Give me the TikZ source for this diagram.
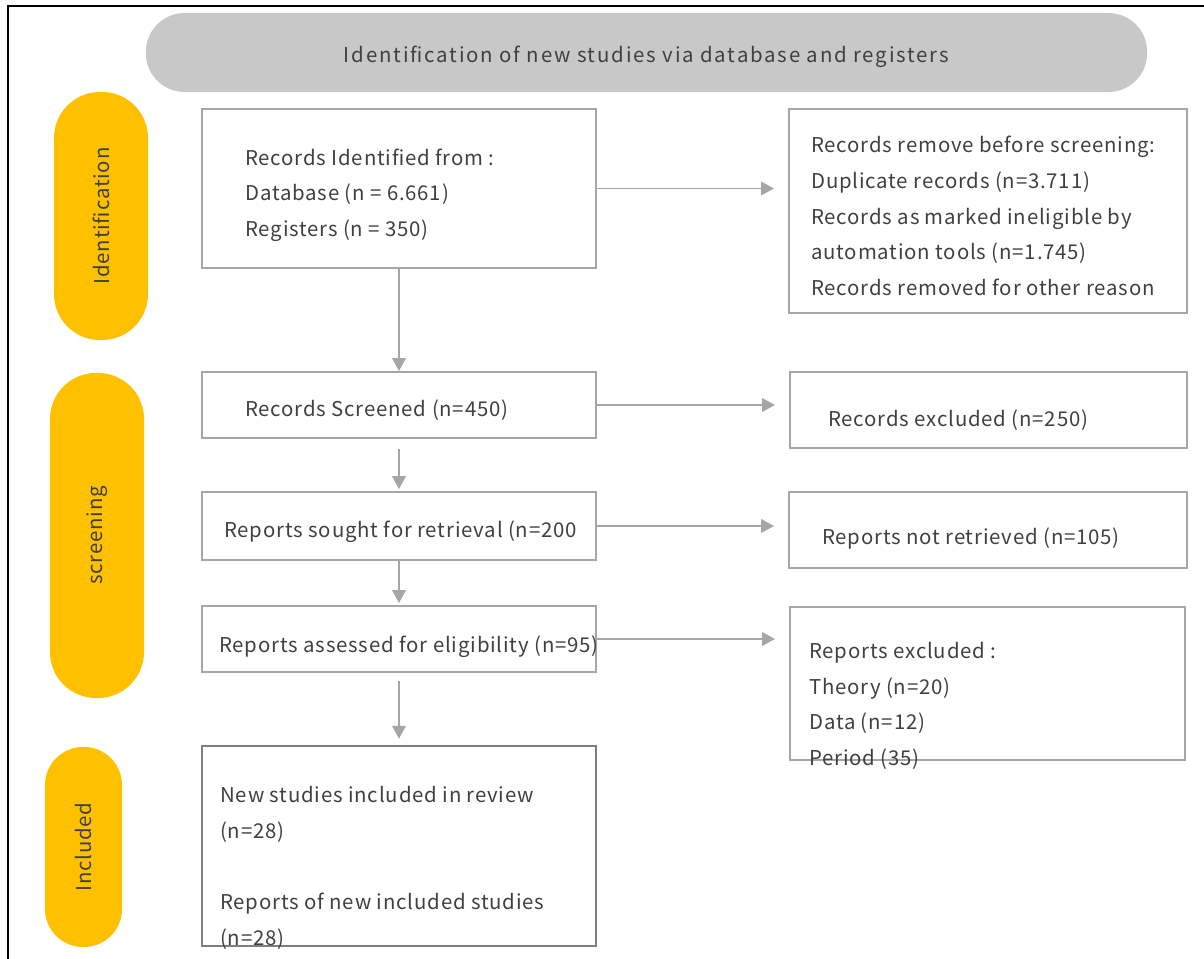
\documentclass[tikz,border=0pt]{standalone}
\usepackage{fontspec}
\setmainfont{Noto Sans CJK JP}[LetterSpace=4]
\usetikzlibrary{arrows.meta}
\definecolor{boxgray}{HTML}{A6A6A6}
\definecolor{darkbox}{HTML}{7F7F7F}
\definecolor{titlegray}{HTML}{C8C8C8}
\definecolor{pillyellow}{HTML}{FFC000}
\definecolor{textgray}{HTML}{404040}
\tikzset{
  flowbox/.style={draw=boxgray, line width=1.4pt, inner sep=0pt},
  stagepill/.style={fill=pillyellow, rounded corners=1.15cm, inner sep=0pt, rotate=90, text=textgray},
  flowtext/.style={anchor=mid west, inner sep=0pt, align=left, text=textgray},
  flowarrow/.style={draw=boxgray, line width=1.1pt, -{Triangle[length=0.32cm, width=0.34cm]}}
}
\begin{document}
\begin{tikzpicture}[x=0.025cm, y=-0.025cm, font=\fontsize{14.5pt}{25.5pt}\selectfont]
\useasboundingbox (0,0) rectangle (1204,959);
\draw[line width=2pt] (8,959) -- (8,6) -- (1204,6);

% title and stages
\node[fill=titlegray, rounded corners=0.97cm, minimum width=25.025cm, minimum height=1.975cm] (Title) at (646.5,52.5) {};
\node[inner sep=0pt, text=textgray, font=\fontsize{14.5pt}{25.5pt}\selectfont\addfontfeatures{LetterSpace=9}] (Title text) at (646.5,57) {Identification of new studies via database and registers};
\node[stagepill, minimum width=6.2cm, minimum height=2.35cm] (Identification) at (101,216) {Identification};
\node[stagepill, minimum width=8.125cm, minimum height=2.35cm] (Screening) at (97,535.5) {screening};
\node[stagepill, rounded corners=0.95cm, minimum width=5cm, minimum height=1.925cm] (Included) at (83.5,847) {Included};

% boxes
\node[flowbox, minimum width=9.85cm, minimum height=3.975cm] (Records Identified) at (399,188.5) {};
\node[flowbox, minimum width=9.95cm, minimum height=5.1cm] (Records Removed) at (988,211) {};
\node[flowbox, minimum width=9.85cm, minimum height=1.65cm] (Records Screened) at (399,405) {};
\node[flowbox, minimum width=9.925cm, minimum height=1.9cm] (Records Excluded) at (988.5,410) {};
\node[flowbox, minimum width=9.85cm, minimum height=1.7cm] (Reports Sought) at (399,526) {};
\node[flowbox, minimum width=9.95cm, minimum height=1.9cm] (Reports Not Retrieved) at (988,530) {};
\node[flowbox, minimum width=9.85cm, minimum height=1.65cm] (Reports Assessed) at (399,639) {};
\node[flowbox, minimum width=9.875cm, minimum height=3.825cm] (Reports Excluded) at (987.5,683.5) {};
\node[flowbox, draw=darkbox, line width=1.8pt, minimum width=9.85cm, minimum height=5cm] (New Studies) at (399,846) {};

% texts (anchored on their last line)
\node[flowtext] (Records Identified text) at (245,233) {Records Identified from :\\Database (n = 6.661)\\Registers (n = 350)};
\node[flowtext] (Records Removed text) at (811,292) {Records remove before screening:\\Duplicate records (n=3.711)\\Records as marked ineligible by\\automation tools (n=1.745)\\Records removed for other reason};
\node[flowtext] (Records Screened text) at (245,413) {Records Screened (n=450)};
\node[flowtext] (Records Excluded text) at (828,423) {Records excluded (n=250)};
\node[flowtext] (Reports Sought text) at (224,534) {Reports sought for retrieval (n=200};
\node[flowtext] (Reports Not Retrieved text) at (822,541) {Reports not retrieved (n=105)};
\node[flowtext] (Reports Assessed text) at (219,649) {Reports assessed for eligibility (n=95)};
\node[flowtext] (Reports Excluded text) at (809,762) {Reports excluded :\\Theory (n=20)\\Data (n=12)\\Period (35)};
\node[flowtext] (New Studies text) at (220,942) {New studies included in review\\(n=28)\\[25.5pt]Reports of new included studies\\(n=28)};

% arrows
\draw[flowarrow, shorten >=0.35cm] (Records Identified.east) -- (Records Identified.east -| Records Removed.west);
\draw[flowarrow, shorten >=0.35cm] (Records Screened.east) -- (Records Screened.east -| Records Excluded.west);
\draw[flowarrow, shorten >=0.35cm] (Reports Sought.east) -- (Reports Sought.east -| Reports Not Retrieved.west);
\draw[flowarrow, shorten >=0.35cm] (Reports Assessed.east) -- (Reports Assessed.east -| Reports Excluded.west);
\draw[flowarrow] (Records Identified.south) -- (Records Screened.north);
\draw[flowarrow, shorten <=0.25cm, shorten >=0.05cm] (Records Screened.south) -- (Reports Sought.north);
\draw[flowarrow, shorten >=0.05cm] (Reports Sought.south) -- (Reports Assessed.north);
\draw[flowarrow, shorten <=0.2cm, shorten >=0.15cm] (Reports Assessed.south) -- (New Studies.north);
\end{tikzpicture}
\end{document}
